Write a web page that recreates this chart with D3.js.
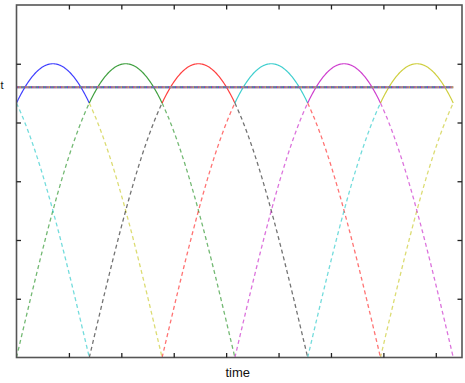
<!DOCTYPE html>
<html><head><meta charset="utf-8">
<script src="https://cdn.jsdelivr.net/npm/d3@7"></script>
<style>html,body{margin:0;padding:0;background:#fff;}svg{display:block;}</style>
</head><body>
<script>
// ---- data ----
const seriesNames = ["v1","v2","v3","v4","v5","v6"];
const solidColors = ["#0000ff","#008000","#ff0000","#00bfbf","#bf00bf","#bfbf00"];
const dashColors  = ["#bfbf00","#008000","#000000","#ff0000","#bf00bf","#00bfbf"];
const phaseDeg    = [60, 0, -60, -120, -180, -240];   // phase offset of each line voltage
const amplitude   = 1.0;
const freqHz      = 60;
const avgLevel    = 0.92;
const avgColors   = ["#5050e0","#d06060","#8c8c9c","#d09a50","#7050c8","#60a060"];
const xTicks      = [2,4,6,8,10,12,14,16];   // ms
const yTicks      = [0.2,0.4,0.6,0.8,1.0];
const xDomain     = [0, 17];
const yDomain     = [0, 1.2];
const xLabel      = "time";
const yLabel      = "Vout";

// ---- layout ----
const W = 465, H = 383;
const L = 16.5, R = 462, T = 5, B = 357.5;
const svg = d3.select("body").append("svg").attr("width", W).attr("height", H);
const x = d3.scaleLinear().domain(xDomain).range([L, R]);
const y = d3.scaleLinear().domain(yDomain).range([B, T]);
const periodMs = 1000 / freqHz;
const degToMs = d => d / 360 * periodMs;
const val = (k, tms) => amplitude * Math.sin((360 * tms / periodMs + phaseDeg[k]) * Math.PI / 180);

svg.append("defs").append("clipPath").attr("id","clip")
  .append("rect").attr("x", L).attr("y", T).attr("width", R - L).attr("height", B - T);
const g = svg.append("g").attr("clip-path","url(#clip)");
const line = d3.line().x(d => x(d[0])).y(d => y(d[1]));

function sampled(k, a, b) {
  const pts = [], n = 80;
  for (let i = 0; i <= n; i++) {
    const t = a + (b - a) * i / n;
    pts.push([t, Math.max(0, val(k, t))]);
  }
  return pts;
}
const tMax = periodMs;
// dashed parts
seriesNames.forEach((s, k) => {
  const parts = [[60*k - 60, 60*k], [60*k + 60, 60*k + 120]];
  parts.forEach(([a, b]) => {
    [-360, 0, 360].forEach(sh => {
      let ta = degToMs(a + sh), tb = degToMs(b + sh);
      ta = Math.max(ta, 0); tb = Math.min(tb, tMax);
      if (tb - ta > 1e-6) {
        g.append("path").attr("d", line(sampled(k, ta, tb)))
          .attr("fill","none").attr("stroke", dashColors[k]).attr("stroke-opacity",0.55)
          .attr("stroke-width",1.3).attr("stroke-dasharray","4,3");
      }
    });
  });
});
// solid arcs
seriesNames.forEach((s, k) => {
  const ta = degToMs(60*k), tb = degToMs(60*k + 60);
  g.append("path").attr("d", line(sampled(k, ta, tb)))
    .attr("fill","none").attr("stroke", solidColors[k]).attr("stroke-opacity",0.75)
    .attr("stroke-width",1.2);
});
// average line (multi-coloured)
g.append("line").attr("x1", x(0)).attr("x2", x(periodMs)).attr("y1", y(avgLevel)).attr("y2", y(avgLevel))
  .attr("stroke","#7a70c0").attr("stroke-width",2.2);
avgColors.forEach((c, i) => {
  g.append("line").attr("x1", x(0)).attr("x2", x(periodMs)).attr("y1", y(avgLevel)).attr("y2", y(avgLevel))
    .attr("stroke", c).attr("stroke-width",2.2).attr("stroke-dasharray","1.2,6")
    .attr("stroke-dashoffset", -i * 1.2);
});

// frame
svg.append("rect").attr("x", L).attr("y", T).attr("width", R - L).attr("height", B - T)
  .attr("fill","none").attr("stroke","#555").attr("stroke-width",1.6);

// ticks (inward, all four sides) via axes
const tl = 4.5;
svg.append("g").attr("transform",`translate(0,${B})`)
  .call(d3.axisTop(x).tickValues(xTicks).tickSize(tl).tickFormat(""))
  .call(a => a.select(".domain").remove());
svg.append("g").attr("transform",`translate(0,${T})`)
  .call(d3.axisBottom(x).tickValues(xTicks).tickSize(tl).tickFormat(""))
  .call(a => a.select(".domain").remove());
svg.append("g").attr("transform",`translate(${L},0)`)
  .call(d3.axisRight(y).tickValues(yTicks).tickSize(tl).tickFormat(""))
  .call(a => a.select(".domain").remove());
svg.append("g").attr("transform",`translate(${R},0)`)
  .call(d3.axisLeft(y).tickValues(yTicks).tickSize(tl).tickFormat(""))
  .call(a => a.select(".domain").remove());
svg.selectAll(".tick line").attr("stroke","#222").attr("stroke-width",1.3);

// labels
svg.append("text").attr("x", (L + R) / 2 - 1.5).attr("y", 376.5).attr("text-anchor","middle")
  .attr("font-family","Liberation Sans, Arial, sans-serif").attr("font-size",13).attr("fill","#111").text(xLabel);
svg.append("text").attr("x", 3.5).attr("y", 88.5).attr("text-anchor","end")
  .attr("font-family","Liberation Sans, Arial, sans-serif").attr("font-size",11).attr("fill","#111").text(yLabel);
</script>
</body></html>
